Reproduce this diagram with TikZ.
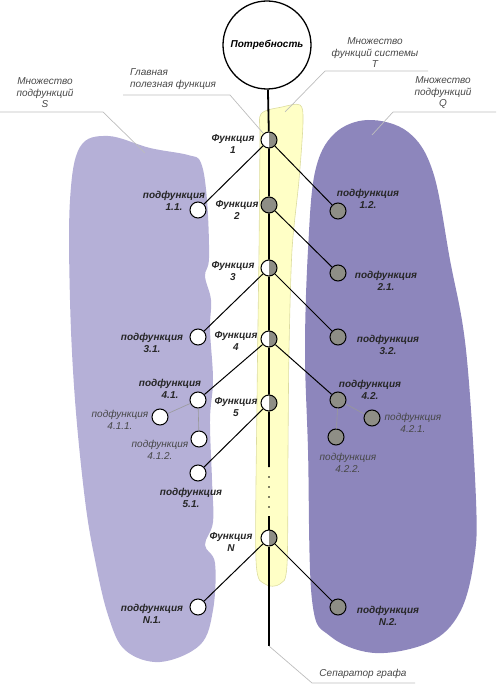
\documentclass[tikz,border=0pt]{standalone}
\usepackage{fontspec}
\setmainfont{Liberation Sans}
\usetikzlibrary{positioning}

\definecolor{setS}{HTML}{B5B0D7}
\definecolor{setQ}{HTML}{8D86BC}
\definecolor{setT}{HTML}{FFFFC6}
\definecolor{setTline}{HTML}{DCDCA0}
\definecolor{subgray}{HTML}{8E8E86}
\definecolor{leadgray}{HTML}{BDBDBD}

\begin{document}
\begin{tikzpicture}[
  x=1pt, y=-1pt,
  fnode/.style={circle, draw=black, line width=1pt, fill=white, minimum size=16pt, inner sep=0pt,
    path picture={\fill[subgray] (path picture bounding box.north) rectangle (path picture bounding box.south east);}},
  gnode/.style={circle, draw=black, line width=1pt, fill=subgray, minimum size=16pt, inner sep=0pt},
  wnode/.style={circle, draw=black, line width=1pt, fill=white, minimum size=16pt, inner sep=0pt},
  flabel/.style={font=\fontsize{10}{11.5}\selectfont\bfseries\itshape, align=center, text=black!85, inner sep=0pt},
  minorlabel/.style={font=\fontsize{10}{11.5}\selectfont\itshape, align=center, text=black!72, inner sep=0pt},
  note/.style={font=\fontsize{10}{11.5}\selectfont\itshape, text=black!72, inner sep=0pt},
  spine/.style={draw=black, line width=1.8pt},
  branch/.style={draw=black, line width=1pt},
  twig/.style={draw=black!40, line width=0.6pt},
  leader/.style={draw=leadgray, line width=0.7pt}
]
  \useasboundingbox (0,0) rectangle (496,684);

  % sets S, Q, T
  \fill[setS] plot[smooth cycle, tension=0.6] coordinates {(80,147) (108,136) (150,148) (188,155) (201,163) (207,200)
    (209,258) (205,276) (211,300) (210,330) (213,380) (210,420) (212,480) (213,522) (205,545) (215,563)
    (213,610) (200,645) (160,662) (125,650) (108,615) (95,560) (85,500) (75,400) (70,300) (70,200)};
  \fill[setQ] plot[smooth cycle, tension=0.6] coordinates {(368,120) (408,132) (433,172) (450,260) (466,350)
    (476,500) (474,560) (460,612) (430,642) (375,653) (330,636) (312,600) (308,450) (305,350) (308,250)
    (315,172) (334,134)};
  \filldraw[fill=setT, draw=setTline, line width=0.6pt] plot[smooth cycle, tension=0.5] coordinates {(261,114) (282,107)
    (300,105) (303,122) (299,180) (292,250) (289,350) (288,450) (287,565) (280,584) (265,584) (256,560)
    (257,400) (259,250) (260,140)};

  % need
  \node[circle, draw=black, line width=1.3pt, fill=white, minimum size=88pt, inner sep=0pt,
    font=\fontsize{10}{12}\selectfont\bfseries\itshape] (need) at (267,45) {Потребность};

  % functions
  \node[fnode] (f1) at (269,140) {};
  \node[gnode] (f2) at (269,205) {};
  \node[fnode] (f3) at (269,268) {};
  \node[fnode] (f4) at (269,339) {};
  \node[fnode] (f5) at (269,403) {};
  \node[fnode] (fN) at (269,538) {};
  \coordinate (gapTop) at (269,467);
  \coordinate (gapBot) at (269,516);
  \coordinate (spineEnd) at (269,646);

  % subfunctions
  \node[wnode] (s11) at (198,210) {};
  \node[wnode] (s31) at (198,337) {};
  \node[wnode] (s41) at (198,400) {};
  \node[wnode] (s411) at (160,417) {};
  \node[wnode] (s412) at (199,439) {};
  \node[wnode] (s51) at (198,473) {};
  \node[wnode] (sN1) at (198,607) {};
  \node[gnode] (s12) at (338,211) {};
  \node[gnode] (s21) at (338,273) {};
  \node[gnode] (s32) at (338,337) {};
  \node[gnode] (s42) at (338,400) {};
  \node[gnode] (s421) at (372,418) {};
  \node[gnode] (s422) at (336,437) {};
  \node[gnode] (sN2) at (338,607) {};

  % graph
  \draw[spine] (need) -- (f1) -- (f2) -- (f3) -- (f4) -- (f5) -- (gapTop);
  \draw[spine] (gapBot) -- (fN) -- (spineEnd);
  \foreach \y in {477,487,497,507}
    \fill (269,\y) circle (0.9);
  \draw[branch] (f1) -- (s11);
  \draw[branch] (f1) -- (s12);
  \draw[branch] (f2) -- (s21);
  \draw[branch] (f3) -- (s31);
  \draw[branch] (f3) -- (s32);
  \draw[branch] (f4) -- (s41);
  \draw[branch] (f4) -- (s42);
  \draw[branch] (f5) -- (s51);
  \draw[branch] (fN) -- (sN1);
  \draw[branch] (fN) -- (sN2);
  \draw[twig] (s41) -- (s411);
  \draw[twig] (s41) -- (s412);
  \draw[twig] (s42) -- (s421);
  \draw[twig] (s42) -- (s422);

  % labels
  \node[flabel] (lf1) at (233,144) {Функция\\1};
  \node[flabel] (lf2) at (237,210) {Функция\\2};
  \node[flabel] (lf3) at (233,271) {Функция\\3};
  \node[flabel] (lf4) at (236,341) {Функция\\4};
  \node[flabel] (lf5) at (236,407) {Функция\\5};
  \node[flabel] (lfN) at (231,542) {Функция\\N};
  \node[flabel] (l11) at (174,201) {подфункция\\1.1.};
  \node[flabel] (l12) at (368,199) {подфункция\\1.2.};
  \node[flabel] (l21) at (386,281) {подфункция\\2.1.};
  \node[flabel] (l31) at (152,343) {подфункция\\3.1.};
  \node[flabel] (l32) at (388,345) {подфункция\\3.2.};
  \node[flabel] (l41) at (170,389) {подфункция\\4.1.};
  \node[flabel] (l42) at (370,390) {подфункция\\4.2.};
  \node[flabel] (l51) at (191,498) {подфункция\\5.1.};
  \node[flabel] (lN1) at (152,614) {подфункция\\N.1.};
  \node[flabel] (lN2) at (388,616) {подфункция\\N.2.};
  \node[minorlabel] (l411) at (120,420) {подфункция\\4.1.1.};
  \node[minorlabel] (l412) at (160,450) {подфункция\\4.1.2.};
  \node[minorlabel] (l421) at (413,423) {подфункция\\4.2.1.};
  \node[minorlabel] (l422) at (348,463) {подфункция\\4.2.2.};

  % notes
  \node[note, align=center] (nT) at (375,53) {Множество\\функций системы\\T};
  \node[note, align=left, anchor=west] (nMain) at (130,79) {Главная\\полезная функция};
  \node[note, align=center] (nS) at (45,93) {Множество\\подфункций\\S};
  \node[note, align=center] (nQ) at (443,93) {Множество\\подфункций\\Q};
  \node[note] (nSep) at (363,674) {Сепаратор графа};

  % leaders
  \draw[leader] (428,71) -- (325,71) -- (285,112);
  \draw[leader] (123,95) -- (230,95) -- (263,133);
  \draw[leader] (0,112) -- (103,112) -- (145,153);
  \draw[leader] (496,112) -- (393,112) -- (372,135);
  \draw[leader] (415,683) -- (312,683) -- (spineEnd);
\end{tikzpicture}
\end{document}
